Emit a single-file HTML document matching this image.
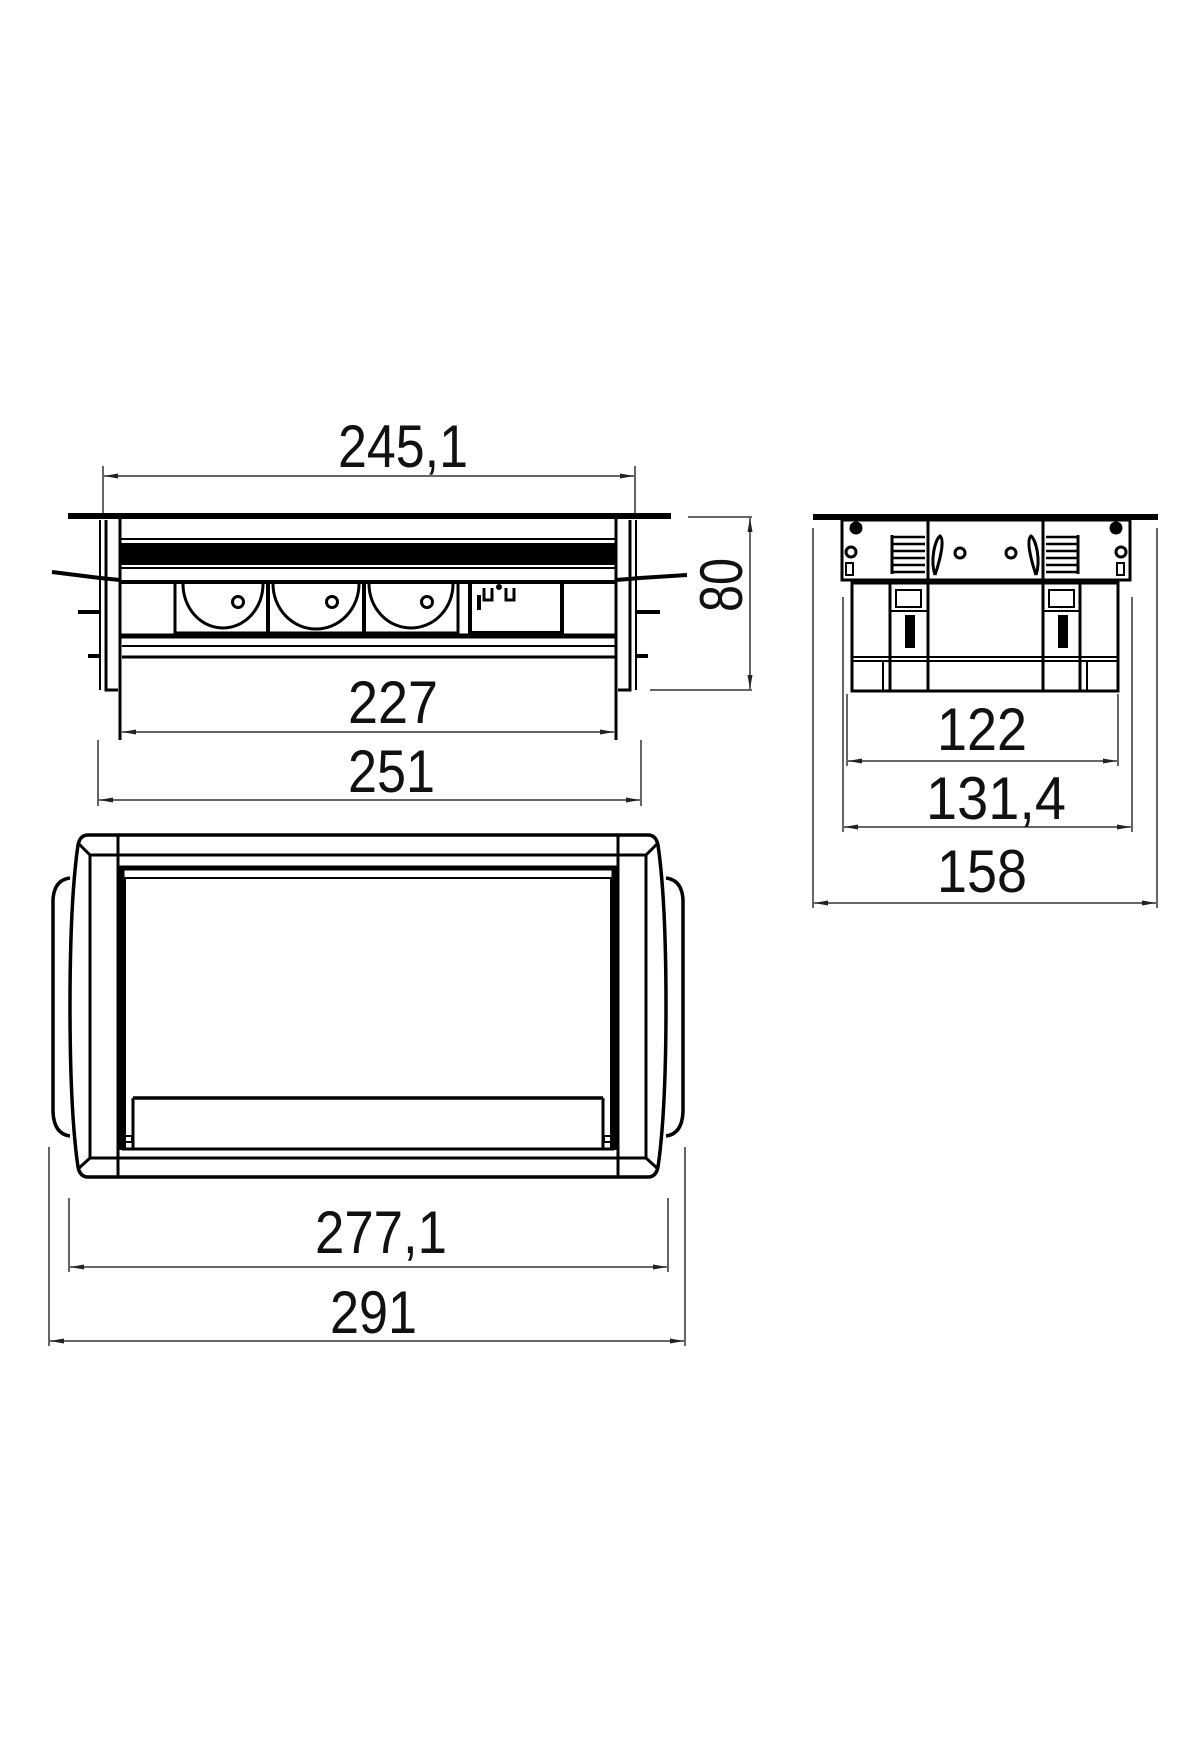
<!DOCTYPE html>
<html><head><meta charset="utf-8"><style>
html,body{margin:0;padding:0;background:#fff;}
svg{display:block;}
text{font-family:"Liberation Sans",sans-serif;font-size:60px;fill:#111;}
</style></head><body>
<svg width="1200" height="1760" viewBox="0 0 1200 1760" xmlns="http://www.w3.org/2000/svg">
<defs>
<marker id="a" viewBox="0 0 14 6" refX="14" refY="3" markerWidth="14" markerHeight="6" markerUnits="userSpaceOnUse" orient="auto-start-reverse"><path d="M0,0.5 L14,3 L0,5.5 Z" fill="#222"/></marker>
</defs>
<g stroke="#333" stroke-width="1.5" fill="none">
<!-- front view dims -->
<line x1="103" y1="466" x2="103" y2="515"/><line x1="635" y1="466" x2="635" y2="515"/>
<line x1="104" y1="476" x2="634" y2="476" marker-start="url(#a)" marker-end="url(#a)"/>
<line x1="688" y1="517" x2="752" y2="517"/><line x1="650" y1="690" x2="752" y2="690"/>
<line x1="750" y1="518" x2="750" y2="689" marker-start="url(#a)" marker-end="url(#a)"/>
<line x1="122" y1="732" x2="614" y2="732" marker-start="url(#a)" marker-end="url(#a)"/>
<line x1="98" y1="740" x2="98" y2="806"/><line x1="641" y1="740" x2="641" y2="806"/>
<line x1="99" y1="800" x2="640" y2="800" marker-start="url(#a)" marker-end="url(#a)"/>
<!-- side dims -->
<line x1="847" y1="694" x2="847" y2="766"/><line x1="1118" y1="694" x2="1118" y2="766"/>
<line x1="848" y1="761" x2="1117" y2="761" marker-start="url(#a)" marker-end="url(#a)"/>
<line x1="843" y1="597" x2="843" y2="832"/><line x1="1132" y1="597" x2="1132" y2="832"/>
<line x1="844" y1="827" x2="1131" y2="827" marker-start="url(#a)" marker-end="url(#a)"/>
<line x1="813" y1="528" x2="813" y2="908"/><line x1="1157" y1="528" x2="1157" y2="908"/>
<line x1="814" y1="903" x2="1156" y2="903" marker-start="url(#a)" marker-end="url(#a)"/>
<!-- top dims -->
<line x1="69" y1="1198" x2="69" y2="1272"/><line x1="668" y1="1198" x2="668" y2="1272"/>
<line x1="70" y1="1267" x2="667" y2="1267" marker-start="url(#a)" marker-end="url(#a)"/>
<line x1="49" y1="1147" x2="49" y2="1346"/><line x1="685" y1="1147" x2="685" y2="1346"/>
<line x1="50" y1="1341" x2="684" y2="1341" marker-start="url(#a)" marker-end="url(#a)"/>
</g>
<!-- text -->
<text x="338" y="467" textLength="130" lengthAdjust="spacingAndGlyphs">245,1</text>
<text x="348" y="723" textLength="90" lengthAdjust="spacingAndGlyphs">227</text>
<text x="348" y="792" textLength="87" lengthAdjust="spacingAndGlyphs">251</text>
<text transform="translate(742,612) rotate(-90)" x="0" y="0" textLength="54" lengthAdjust="spacingAndGlyphs">80</text>
<text x="937" y="750" textLength="90" lengthAdjust="spacingAndGlyphs">122</text>
<text x="926" y="819" textLength="140" lengthAdjust="spacingAndGlyphs">131,4</text>
<text x="937" y="892" textLength="90" lengthAdjust="spacingAndGlyphs">158</text>
<text x="315" y="1253" textLength="132" lengthAdjust="spacingAndGlyphs">277,1</text>
<text x="330" y="1333" textLength="87" lengthAdjust="spacingAndGlyphs">291</text>

<!-- FRONT VIEW -->
<g stroke="#000" fill="none">
<path d="M68,516 L671,516" stroke-width="6"/>
<line x1="120" y1="519" x2="120" y2="740" stroke-width="3"/>
<line x1="616" y1="519" x2="616" y2="740" stroke-width="3"/>
<rect x="120" y="543" width="496" height="22" fill="#000" stroke="none"/>
<line x1="120" y1="539" x2="616" y2="539" stroke-width="2"/>
<line x1="120" y1="568" x2="616" y2="568" stroke-width="2"/>
<path d="M52,572 L100,578 L120,580" stroke-width="4"/>
<path d="M616,580 L640,578 L687,575" stroke-width="4"/>
<line x1="120" y1="582" x2="616" y2="582" stroke-width="4"/>
<!-- side posts -->
<path d="M106,520 L106,690 L118,690" stroke-width="3"/>
<path d="M100,520 L100,690" stroke-width="2"/>
<path d="M630,520 L630,690 L618,690" stroke-width="3"/>
<path d="M636,520 L636,690" stroke-width="2"/>
<line x1="78" y1="612" x2="100" y2="612" stroke-width="4"/>
<line x1="88" y1="656" x2="100" y2="656" stroke-width="4"/>
<line x1="636" y1="612" x2="660" y2="612" stroke-width="4"/>
<line x1="636" y1="656" x2="648" y2="656" stroke-width="4"/>
<!-- sockets -->
<rect x="175" y="582" width="283" height="51" stroke-width="3"/>
<line x1="268" y1="582" x2="268" y2="633" stroke-width="4"/>
<line x1="364" y1="582" x2="364" y2="633" stroke-width="4"/>
<path d="M183,584 A40,44 0 0 0 263,584" stroke-width="3"/>
<path d="M273,584 A42,44 0 0 0 359,584" stroke-width="3"/>
<path d="M369,584 A42,44 0 0 0 453,584" stroke-width="3"/>
<circle cx="238" cy="602" r="5.5" stroke-width="3"/>
<circle cx="332" cy="602" r="5.5" stroke-width="3"/>
<circle cx="427" cy="602" r="5.5" stroke-width="3"/>
<rect x="470" y="582" width="92" height="51" stroke-width="4"/>
<path d="M484,588 v12 h8 v-12 M506,588 v12 h8 v-12" stroke-width="3"/>
<circle cx="499" cy="587" r="2.5" fill="#000"/>
<line x1="479" y1="595" x2="479" y2="610" stroke-width="4"/>
<line x1="120" y1="636" x2="616" y2="636" stroke-width="5"/>
<line x1="122" y1="646" x2="616" y2="646" stroke-width="2"/>
<line x1="122" y1="657" x2="616" y2="657" stroke-width="3"/>
</g>

<!-- SIDE VIEW -->
<g stroke="#000" fill="none">
<path d="M813,517 L1158,517" stroke-width="6"/>
<rect x="842" y="520" width="288" height="60" stroke-width="3"/>
<line x1="928" y1="520" x2="928" y2="580" stroke-width="3"/>
<line x1="1043" y1="520" x2="1043" y2="580" stroke-width="3"/>
<rect x="852" y="583" width="266" height="108" stroke-width="3"/>
<line x1="852" y1="657" x2="1118" y2="657" stroke-width="2"/>
<line x1="852" y1="661" x2="1118" y2="661" stroke-width="2"/>
<line x1="890" y1="583" x2="890" y2="691" stroke-width="3"/>
<line x1="928" y1="583" x2="928" y2="691" stroke-width="3"/>
<line x1="1043" y1="583" x2="1043" y2="691" stroke-width="3"/>
<line x1="1080" y1="583" x2="1080" y2="691" stroke-width="3"/>
<line x1="883" y1="661" x2="883" y2="691" stroke-width="2"/>
<line x1="1087" y1="661" x2="1087" y2="691" stroke-width="2"/>
<rect x="896" y="590" width="25" height="17" stroke-width="2"/>
<rect x="1049" y="590" width="25" height="17" stroke-width="2"/>
<line x1="890" y1="611" x2="928" y2="611" stroke-width="2"/>
<line x1="1043" y1="611" x2="1080" y2="611" stroke-width="2"/>
<rect x="905" y="615" width="10" height="33" fill="#000" stroke="none"/>
<rect x="1058" y="615" width="10" height="33" fill="#000" stroke="none"/>
<path d="M893,537 h32 M893,544 h32 M893,551 h32 M893,558 h32 M893,565 h32 M893,572 h32" stroke-width="2.5"/>
<path d="M1046,537 h32 M1046,544 h32 M1046,551 h32 M1046,558 h32 M1046,565 h32 M1046,572 h32" stroke-width="2.5"/>
<line x1="892" y1="535" x2="892" y2="574" stroke-width="3"/>
<line x1="1078" y1="535" x2="1078" y2="574" stroke-width="3"/>
<path d="M935,575 C930,560 935,540 940,536 C945,540 940,560 935,575" stroke-width="3"/>
<path d="M1036,575 C1041,560 1036,540 1031,536 C1026,540 1031,560 1036,575" stroke-width="3"/>
<circle cx="960" cy="553" r="5" stroke-width="3"/>
<circle cx="1011" cy="553" r="5" stroke-width="3"/>
<circle cx="856" cy="528" r="6" fill="#000"/><circle cx="1116" cy="528" r="6" fill="#000"/>
<circle cx="851" cy="552" r="5" stroke-width="3"/><circle cx="1121" cy="552" r="5" stroke-width="3"/>
<rect x="846" y="563" width="7" height="12" stroke-width="2"/><rect x="1117" y="563" width="7" height="12" stroke-width="2"/>
</g>

<!-- TOP VIEW -->
<g stroke="#000" fill="none">
<path d="M88,835 L648,835 Q656,835 658,845 Q666,900 666,1006 Q666,1112 658,1167 Q656,1177 648,1177 L88,1177 Q80,1177 78,1167 Q70,1112 70,1006 Q70,900 78,845 Q80,835 88,835 Z" stroke-width="3.5"/>
<path d="M70,878 Q54,880 53,900 L53,1112 Q54,1134 70,1136" stroke-width="3.5"/>
<path d="M666,878 Q682,880 683,900 L683,1112 Q682,1134 666,1136" stroke-width="3.5"/>
<path d="M90,855 L646,855 M90,1158 L646,1158" stroke-width="3"/>
<line x1="90" y1="855" x2="90" y2="1158" stroke-width="3"/>
<line x1="646" y1="855" x2="646" y2="1158" stroke-width="3"/>
<line x1="78" y1="843" x2="90" y2="855" stroke-width="3"/>
<line x1="658" y1="843" x2="646" y2="855" stroke-width="3"/>
<line x1="78" y1="1169" x2="90" y2="1158" stroke-width="3"/>
<line x1="658" y1="1169" x2="646" y2="1158" stroke-width="3"/>
<line x1="118" y1="835" x2="118" y2="1177" stroke-width="3"/>
<line x1="618" y1="835" x2="618" y2="1177" stroke-width="3"/>
<line x1="118" y1="868" x2="618" y2="868" stroke-width="5"/>
<line x1="124" y1="878" x2="612" y2="878" stroke-width="2"/>
<line x1="122" y1="866" x2="122" y2="1150" stroke-width="5"/>
<line x1="614" y1="866" x2="614" y2="1150" stroke-width="5"/>
<line x1="125" y1="878" x2="125" y2="1150" stroke-width="2"/>
<line x1="611" y1="878" x2="611" y2="1150" stroke-width="2"/>
<line x1="133" y1="1098" x2="603" y2="1098" stroke-width="3.5"/>
<line x1="133" y1="1098" x2="133" y2="1150" stroke-width="3"/>
<line x1="603" y1="1098" x2="603" y2="1150" stroke-width="3"/>
<line x1="122" y1="1149" x2="614" y2="1149" stroke-width="3"/>
<rect x="124" y="1136" width="8" height="6" stroke-width="2"/>
<rect x="604" y="1136" width="8" height="6" stroke-width="2"/>
</g>
</svg>
</body></html>
